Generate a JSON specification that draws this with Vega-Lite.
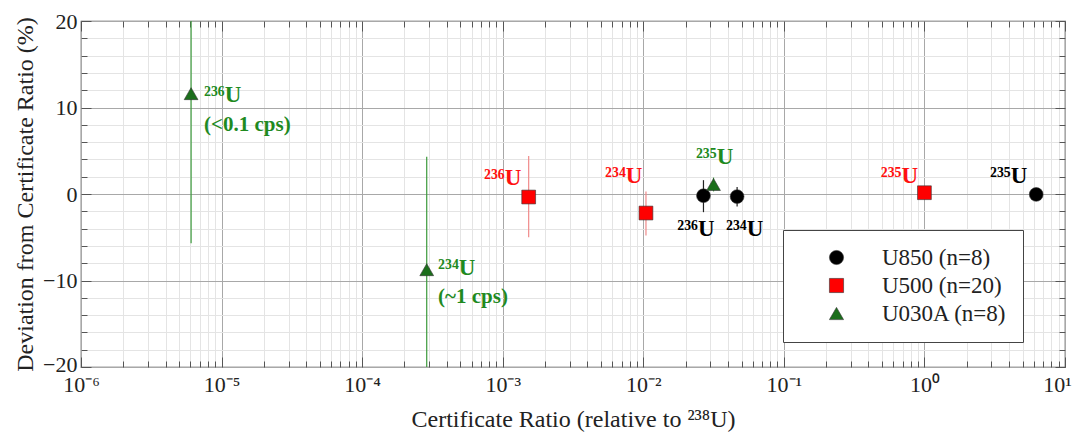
{
  "$schema": "https://vega.github.io/schema/vega-lite/v6.json",
  "autosize": {"type": "none"},
  "padding": {"left": 81, "top": 21, "right": 10, "bottom": 65},
  "width": 984,
  "height": 346,
  "background": "white",
  "config": {
    "font": "Liberation Serif",
    "view": {"stroke": "#444", "strokeWidth": 1.2},
    "axis": {"labelFont": "Liberation Serif", "titleFont": "Liberation Serif", "labelColor": "#222", "titleColor": "#222", "titleFontWeight": "normal", "domainColor": "#444"},
    "legend": {"labelFont": "Liberation Serif"}
  },
  "datasets": {
    "pts": [
      {"sample": "U850 (n=8)", "ratio": 0.0268, "dev": -0.2, "lo": -2.1, "hi": 1.6},
      {"sample": "U850 (n=8)", "ratio": 0.0465, "dev": -0.3, "lo": -1.45, "hi": 0.8},
      {"sample": "U850 (n=8)", "ratio": 6.24, "dev": -0.05, "lo": -0.5, "hi": 0.4},
      {"sample": "U500 (n=20)", "ratio": 0.00153, "dev": -0.35, "lo": -5.0, "hi": 4.4},
      {"sample": "U500 (n=20)", "ratio": 0.01045, "dev": -2.2, "lo": -4.8, "hi": 0.3},
      {"sample": "U500 (n=20)", "ratio": 1.0, "dev": 0.15, "lo": -0.3, "hi": 0.6},
      {"sample": "U030A (n=8)", "ratio": 0.00000607, "dev": 11.6, "lo": -5.7, "hi": 28.9},
      {"sample": "U030A (n=8)", "ratio": 0.000288, "dev": -8.75, "lo": -21.8, "hi": 4.3},
      {"sample": "U030A (n=8)", "ratio": 0.0316, "dev": 1.1, "lo": 0.3, "hi": 1.9}
    ],
    "labels": [
      {"sample": "U030A (n=8)", "lx": 0.0000075, "ly": 11.4, "label": "²³⁶U", "kind": "iso"},
      {"sample": "U030A (n=8)", "lx": 0.0000075, "ly": 8.0, "label": "(<0.1 cps)", "kind": "cps"},
      {"sample": "U030A (n=8)", "lx": 0.000347, "ly": -8.6, "label": "²³⁴U", "kind": "iso"},
      {"sample": "U030A (n=8)", "lx": 0.000347, "ly": -11.85, "label": "(~1 cps)", "kind": "cps"},
      {"sample": "U500 (n=20)", "lx": 0.000736, "ly": 1.8, "label": "²³⁶U", "kind": "iso"},
      {"sample": "U500 (n=20)", "lx": 0.00535, "ly": 2.1, "label": "²³⁴U", "kind": "iso"},
      {"sample": "U030A (n=8)", "lx": 0.0237, "ly": 4.25, "label": "²³⁵U", "kind": "iso"},
      {"sample": "U850 (n=8)", "lx": 0.01746, "ly": -4.0, "label": "²³⁶U", "kind": "iso"},
      {"sample": "U850 (n=8)", "lx": 0.0388, "ly": -4.0, "label": "²³⁴U", "kind": "iso"},
      {"sample": "U500 (n=20)", "lx": 0.489, "ly": 2.1, "label": "²³⁵U", "kind": "iso"},
      {"sample": "U850 (n=8)", "lx": 2.93, "ly": 2.05, "label": "²³⁵U", "kind": "iso"}
    ]
  },
  "resolve": {"axis": {"x": "independent", "y": "independent"}},
  "layer": [
    {
      "mark": {"type": "rule", "color": "#555", "strokeWidth": 1.3},
      "encoding": {
        "y": {"datum": 0, "type": "quantitative", "scale": {"domain": [-20, 20], "nice": false}, "axis": null}
      }
    },
    {
      "data": {"name": "pts"},
      "transform": [{"filter": "datum.sample == 'U850 (n=8)'"}],
      "mark": {"type": "rule", "strokeWidth": 1.2, "clip": true, "color": "#222222"},
      "encoding": {
        "x": {"field": "ratio", "type": "quantitative", "scale": {"type": "log", "domain": [0.000001, 10], "nice": false},
          "axis": {"orient": "top", "values": [0.000001,0.000002,0.000003,0.000004,0.000005,0.000006,0.000007,0.000008,0.000009,0.00001,0.00002,0.00003,0.00004,0.00005,0.00006,0.00007,0.00008,0.00009,0.0001,0.0002,0.0003,0.0004,0.0005,0.0006,0.0007,0.0008,0.0009,0.001,0.002,0.003,0.004,0.005,0.006,0.007,0.008,0.009,0.01,0.02,0.03,0.04,0.05,0.06,0.07,0.08,0.09,0.1,0.2,0.3,0.4,0.5,0.6,0.7,0.8,0.9,1,2,3,4,5,6,7,8,9,10],
            "labels": false, "grid": true, "domain": false, "title": null, "tickColor": "#555",
            "gridColor": {"condition": {"test": "abs(log(datum.value)/LN10 - round(log(datum.value)/LN10)) < 0.001", "value": "#a8a8a8"}, "value": "#e4e4e4"},
            "tickSize": {"condition": {"test": "abs(log(datum.value)/LN10 - round(log(datum.value)/LN10)) < 0.001", "value": -10}, "value": -6}}},
        "y": {"field": "lo", "type": "quantitative", "scale": {"domain": [-20, 20], "nice": false},
          "axis": {"orient": "right", "values": [-20,-18,-16,-14,-12,-10,-8,-6,-4,-2,0,2,4,6,8,10,12,14,16,18,20],
            "labels": false, "grid": true, "domain": false, "title": null, "tickColor": "#555",
            "gridColor": {"condition": {"test": "datum.value % 10 == 0", "value": "#a8a8a8"}, "value": "#e4e4e4"},
            "tickSize": {"condition": {"test": "datum.value % 10 == 0", "value": -10}, "value": -6}}},
        "y2": {"field": "hi"}
      }
    },
    {
      "data": {"name": "pts"},
      "transform": [{"filter": "datum.sample == 'U500 (n=20)'"}],
      "mark": {"type": "rule", "strokeWidth": 1.2, "clip": true, "color": "#f08a8a"},
      "encoding": {
        "x": {"field": "ratio", "type": "quantitative", "axis": null},
        "y": {"field": "lo", "type": "quantitative", "axis": null},
        "y2": {"field": "hi"}
      }
    },
    {
      "data": {"name": "pts"},
      "transform": [{"filter": "datum.sample == 'U030A (n=8)'"}],
      "mark": {"type": "rule", "strokeWidth": 1.2, "clip": true, "color": "#3c9a3c"},
      "encoding": {
        "x": {"field": "ratio", "type": "quantitative", "axis": null},
        "y": {"field": "lo", "type": "quantitative", "axis": null},
        "y2": {"field": "hi"}
      }
    },
    {
      "data": {"name": "pts"},
      "mark": {"type": "point", "filled": true, "opacity": 1, "size": 190, "stroke": "#333", "strokeWidth": 0.6},
      "encoding": {
        "x": {"field": "ratio", "type": "quantitative",
          "axis": {"orient": "bottom", "values": [0.000001,0.000002,0.000003,0.000004,0.000005,0.000006,0.000007,0.000008,0.000009,0.00001,0.00002,0.00003,0.00004,0.00005,0.00006,0.00007,0.00008,0.00009,0.0001,0.0002,0.0003,0.0004,0.0005,0.0006,0.0007,0.0008,0.0009,0.001,0.002,0.003,0.004,0.005,0.006,0.007,0.008,0.009,0.01,0.02,0.03,0.04,0.05,0.06,0.07,0.08,0.09,0.1,0.2,0.3,0.4,0.5,0.6,0.7,0.8,0.9,1,2,3,4,5,6,7,8,9,10],
            "labelExpr": "abs(log(datum.value)/LN10 - round(log(datum.value)/LN10)) < 0.001 ? ['10⁻⁶','10⁻⁵','10⁻⁴','10⁻³','10⁻²','10⁻¹','10⁰','10¹'][round(log(datum.value)/LN10)+6] : ''",
            "labelFontSize": 22, "labelPadding": 17, "labelFlush": false, "labelOverlap": false,
            "labelOffset": {"condition": {"test": "datum.value > 5", "value": -8}, "value": 0},
            "title": "Certificate Ratio (relative to ²³⁸U)", "titleFontSize": 24, "titlePadding": 8,
            "domain": false, "ticks": true, "tickColor": "#555", "grid": false,
            "tickSize": {"condition": {"test": "abs(log(datum.value)/LN10 - round(log(datum.value)/LN10)) < 0.001", "value": -10}, "value": -6}}},
        "y": {"field": "dev", "type": "quantitative",
          "axis": {"orient": "left", "values": [-20,-18,-16,-14,-12,-10,-8,-6,-4,-2,0,2,4,6,8,10,12,14,16,18,20],
            "labelExpr": "datum.value % 10 == 0 ? replace(datum.label, '-', '−') : ''",
            "labelFontSize": 22, "labelPadding": 14, "labelFlush": false, "labelOverlap": false,
            "labelOffset": {"condition": {"test": "datum.value < -15", "value": -3}, "value": 0},
            "title": "Deviation from Certificate Ratio (%)", "titleFontSize": 24, "titlePadding": 5,
            "domain": false, "ticks": true, "tickColor": "#555", "grid": false,
            "tickSize": {"condition": {"test": "datum.value % 10 == 0", "value": -10}, "value": -6}}},
        "fill": {"field": "sample", "type": "nominal", "title": null,
          "scale": {"domain": ["U850 (n=8)", "U500 (n=20)", "U030A (n=8)"], "range": ["#000000", "#ff0000", "#1b6e1b"]},
          "legend": {"orient": "none", "legendX": 702, "legendY": 209, "fillColor": "white", "strokeColor": "#444", "padding": 16,
            "labelFont": "Liberation Serif", "labelFontSize": 23, "labelColor": "#222", "symbolOffset": 26, "labelOffset": 34,
            "rowPadding": 4, "symbolSize": 200, "symbolStrokeWidth": 0.6}},
        "shape": {"field": "sample", "type": "nominal", "title": null,
          "scale": {"domain": ["U850 (n=8)", "U500 (n=20)", "U030A (n=8)"], "range": ["circle", "square", "triangle-up"]}}
      }
    },
    {
      "data": {"name": "labels"},
      "transform": [{"filter": "datum.sample == 'U850 (n=8)'"}],
      "mark": {"type": "text", "align": "left", "baseline": "middle", "fontWeight": "bold", "font": "Liberation Serif", "fontSize": 23, "color": "#000000"},
      "encoding": {
        "x": {"field": "lx", "type": "quantitative", "axis": null},
        "y": {"field": "ly", "type": "quantitative", "axis": null},
        "text": {"field": "label"}
      }
    },
    {
      "data": {"name": "labels"},
      "transform": [{"filter": "datum.sample == 'U500 (n=20)'"}],
      "mark": {"type": "text", "align": "left", "baseline": "middle", "fontWeight": "bold", "font": "Liberation Serif", "fontSize": 23, "color": "#ff1010"},
      "encoding": {
        "x": {"field": "lx", "type": "quantitative", "axis": null},
        "y": {"field": "ly", "type": "quantitative", "axis": null},
        "text": {"field": "label"}
      }
    },
    {
      "data": {"name": "labels"},
      "transform": [{"filter": "datum.sample == 'U030A (n=8)' && datum.kind == 'iso'"}],
      "mark": {"type": "text", "align": "left", "baseline": "middle", "fontWeight": "bold", "font": "Liberation Serif", "fontSize": 23, "color": "#1f8a1f"},
      "encoding": {
        "x": {"field": "lx", "type": "quantitative", "axis": null},
        "y": {"field": "ly", "type": "quantitative", "axis": null},
        "text": {"field": "label"}
      }
    },
    {
      "data": {"name": "labels"},
      "transform": [{"filter": "datum.sample == 'U030A (n=8)' && datum.kind == 'cps'"}],
      "mark": {"type": "text", "align": "left", "baseline": "middle", "fontWeight": "bold", "font": "Liberation Serif", "fontSize": 21, "color": "#1f8a1f"},
      "encoding": {
        "x": {"field": "lx", "type": "quantitative", "axis": null},
        "y": {"field": "ly", "type": "quantitative", "axis": null},
        "text": {"field": "label"}
      }
    }
  ]
}
